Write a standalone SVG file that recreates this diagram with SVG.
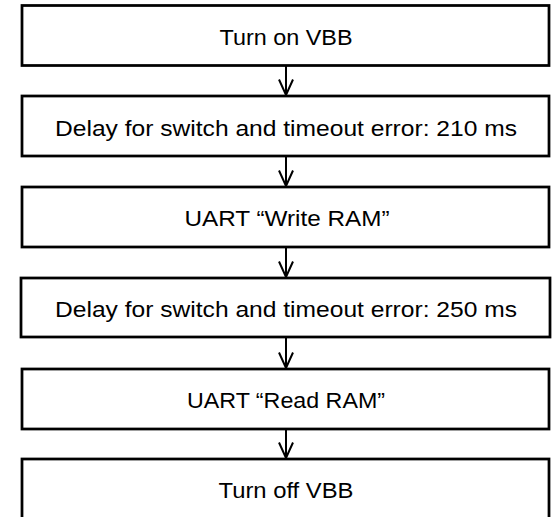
<svg xmlns="http://www.w3.org/2000/svg" width="552" height="517" viewBox="0 0 552 517">
<style>
.box{fill:#fff;stroke:#000;stroke-width:2.75}
.lbl{font-family:"Liberation Sans",Arial,sans-serif;font-size:22px;fill:#000;text-anchor:middle}
.conn{stroke:#000;stroke-width:2;fill:none}
</style>
<defs>
<marker id="v" viewBox="0 0 17 16" refX="16" refY="8" markerWidth="17" markerHeight="16" markerUnits="userSpaceOnUse" orient="auto">
<path d="M0.5,1 L16,8 L0.5,15" fill="none" stroke="#000" stroke-width="2"/>
</marker>
</defs>
<rect width="552" height="517" fill="#fff"/>
<g id="connectors">
<line class="conn" x1="286" y1="66" x2="286" y2="95" marker-end="url(#v)"/>
<line class="conn" x1="286" y1="157" x2="286" y2="186" marker-end="url(#v)"/>
<line class="conn" x1="286" y1="248" x2="286" y2="277" marker-end="url(#v)"/>
<line class="conn" x1="286" y1="338" x2="286" y2="368" marker-end="url(#v)"/>
<line class="conn" x1="286" y1="430" x2="286" y2="458" marker-end="url(#v)"/>
</g>
<g id="n1"><rect class="box" x="22" y="5.5" width="527" height="60"/><text class="lbl" x="286" y="44.5" textLength="133" lengthAdjust="spacingAndGlyphs">Turn on VBB</text></g>
<g id="n2"><rect class="box" x="22" y="96" width="527" height="60"/><text class="lbl" x="286" y="136" textLength="462" lengthAdjust="spacingAndGlyphs">Delay for switch and timeout error: 210 ms</text></g>
<g id="n3"><rect class="box" x="22" y="187" width="527" height="60"/><text class="lbl" x="287" y="226" textLength="205" lengthAdjust="spacingAndGlyphs">UART “Write RAM”</text></g>
<g id="n4"><rect class="box" x="21" y="278" width="529" height="59"/><text class="lbl" x="286" y="317" textLength="462" lengthAdjust="spacingAndGlyphs">Delay for switch and timeout error: 250 ms</text></g>
<g id="n5"><rect class="box" x="22" y="369" width="527" height="60"/><text class="lbl" x="286" y="407.5" textLength="198" lengthAdjust="spacingAndGlyphs">UART “Read RAM”</text></g>
<g id="n6"><rect class="box" x="22" y="459" width="527" height="64"/><text class="lbl" x="286" y="498" textLength="135" lengthAdjust="spacingAndGlyphs">Turn off VBB</text></g>
</svg>
